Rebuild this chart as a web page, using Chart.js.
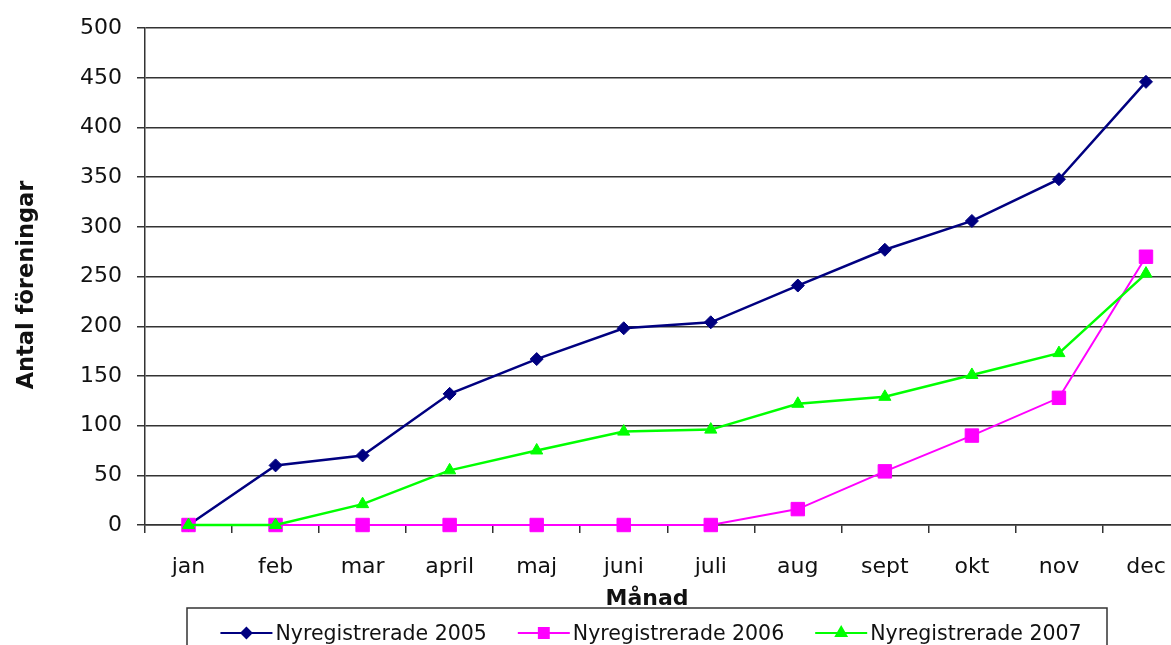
<!DOCTYPE html>
<html>
<head>
<meta charset="utf-8">
<script src="https://cdn.jsdelivr.net/npm/chart.js@4/dist/chart.umd.min.js"></script>
<style>
  html, body { margin: 0; padding: 0; background: #fff; overflow: hidden; }
  #wrap { width: 1200px; height: 645px; }
</style>
</head>
<body>
<div id="wrap"><canvas id="registerChart" width="1200" height="645"></canvas></div>
<script>
// data
const months = ['jan', 'feb', 'mar', 'april', 'maj', 'juni', 'juli', 'aug', 'sept', 'okt', 'nov', 'dec'];
const reg2005 = [0, 60, 70, 132, 167, 198, 204, 241, 277, 306, 348, 446];
const reg2006 = [0, 0, 0, 0, 0, 0, 0, 16, 54, 90, 128, 270];
const reg2007 = [0, 0, 21, 55, 75, 94, 96, 122, 129, 151, 173, 253];
const seriesNames = ['Nyregistrerade 2005', 'Nyregistrerade 2006', 'Nyregistrerade 2007'];
const yTitle = 'Antal föreningar';
const xTitle = 'Månad';
const yMax = 500;
const yStep = 50;

const gridColor = '#333';
Chart.defaults.font.family = '"DejaVu Sans", sans-serif';
Chart.defaults.color = '#111';

// titles and boxed legend, placed like the original (legend is not centred on the plot)
const titlesAndLegend = {
    id: 'titlesAndLegend',
    afterDraw(chart) {
        const ctx = chart.ctx;
        ctx.save();
        ctx.fillStyle = '#111';

        // y title
        ctx.font = 'bold 22.5px "DejaVu Sans"';
        ctx.textAlign = 'center';
        ctx.textBaseline = 'alphabetic';
        ctx.save();
        ctx.translate(33, 285);
        ctx.rotate(-Math.PI / 2);
        ctx.fillText(yTitle, 0, 0);
        ctx.restore();

        // x title
        ctx.font = 'bold 22px "DejaVu Sans"';
        ctx.fillText(xTitle, 647, 605);

        // legend box
        ctx.strokeStyle = '#333';
        ctx.lineWidth = 1.5;
        ctx.strokeRect(187, 608, 920, 60);

        ctx.font = '20.5px "DejaVu Sans"';
        ctx.textAlign = 'left';
        const lineLen = 52, textGap = 3, itemGap = 31;
        const sets = chart.data.datasets;
        const widths = sets.map(ds => lineLen + textGap + ctx.measureText(ds.label).width);
        const total = widths.reduce((a, b) => a + b, 0) + itemGap * (sets.length - 1);
        let x = 651 - total / 2;
        const yMid = 633;
        sets.forEach((ds, i) => {
            ctx.strokeStyle = ds.borderColor;
            ctx.lineWidth = 2;
            ctx.beginPath();
            ctx.moveTo(x, yMid);
            ctx.lineTo(x + lineLen, yMid);
            ctx.stroke();
            ctx.fillStyle = ds.pointBackgroundColor;
            ctx.strokeStyle = ds.pointBorderColor;
            Chart.helpers.drawPoint(ctx, {
                pointStyle: ds.pointStyle,
                radius: ds.legendRadius,
                rotation: 0,
                borderWidth: 1
            }, x + lineLen / 2, yMid);
            ctx.fillStyle = '#111';
            ctx.fillText(ds.label, x + lineLen + textGap, 640);
            x += widths[i] + itemGap;
        });
        ctx.restore();
    }
};

const ctx = document.getElementById('registerChart').getContext('2d');
const registerChart = new Chart(ctx, {
    type: 'line',
    data: {
        labels: months,
        datasets: [
            {
                label: seriesNames[0],
                data: reg2005,
                borderColor: '#000080',
                backgroundColor: '#000080',
                pointBackgroundColor: '#000080',
                pointBorderColor: '#000080',
                borderWidth: 2.5,
                pointStyle: 'rectRot',
                pointRadius: 6.5,
                pointBorderWidth: 1,
                legendRadius: 5,
                tension: 0,
                clip: false,
                order: 3
            },
            {
                label: seriesNames[1],
                data: reg2006,
                borderColor: '#ff00ff',
                backgroundColor: '#ff00ff',
                pointBackgroundColor: '#ff00ff',
                pointBorderColor: '#ff00ff',
                borderWidth: 2,
                pointStyle: 'rect',
                pointRadius: 9.5,
                pointBorderWidth: 1,
                legendRadius: 7,
                tension: 0,
                clip: false,
                order: 2
            },
            {
                label: seriesNames[2],
                data: reg2007,
                borderColor: '#00ff00',
                backgroundColor: '#00ff00',
                pointBackgroundColor: '#00ff00',
                pointBorderColor: '#00ff00',
                borderWidth: 2.5,
                pointStyle: 'triangle',
                pointRadius: 7,
                pointBorderWidth: 1,
                legendRadius: 6,
                tension: 0,
                clip: false,
                order: 1
            }
        ]
    },
    options: {
        responsive: false,
        animation: false,
        events: [],
        layout: { padding: { top: 27, right: 8, bottom: 0, left: 0 } },
        plugins: {
            legend: { display: false },
            tooltip: { enabled: false },
            title: { display: false }
        },
        scales: {
            x: {
                offset: true,
                grid: {
                    offset: true,
                    drawOnChartArea: false,
                    drawTicks: true,
                    tickLength: 8,
                    color: gridColor,
                    lineWidth: 1.5
                },
                border: { display: true, color: gridColor, width: 1.5 },
                ticks: { font: { size: 22 }, padding: 21, color: '#111', maxRotation: 0, autoSkip: false },
                afterFit(scale) { scale.height = 120; }
            },
            y: {
                min: 0,
                max: yMax,
                grid: { color: gridColor, lineWidth: 1.5, tickLength: 8, drawTicks: true },
                border: { display: true, color: gridColor, width: 1.5 },
                ticks: { stepSize: yStep, font: { size: 22 }, padding: 15, color: '#111' },
                afterFit(scale) { scale.width = 145; }
            }
        }
    },
    plugins: [titlesAndLegend]
});
</script>
</body>
</html>
